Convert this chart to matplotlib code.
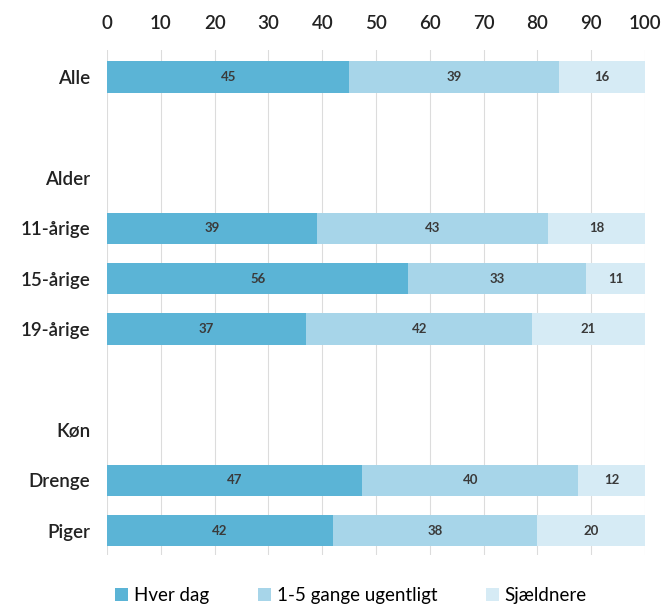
import matplotlib.pyplot as plt
import numpy as np

plt.rcParams['font.family'] = ['Lato', 'DejaVu Sans']

labels = ['Alle', '', 'Alder', '11-årige', '15-årige', '19-årige', '', 'Køn', 'Drenge', 'Piger']
hver_dag = [45, None, None, 39, 56, 37, None, None, 47.4, 42]
ugentligt = [39, None, None, 43, 33, 42, None, None, 40.2, 38]
sjaeldnere = [16, None, None, 18, 11, 21, None, None, 12.4, 20]
series_names = ['Hver dag', '1-5 gange ugentligt', 'Sjældnere']
colors = ['#5bb4d6', '#a7d5e9', '#d6ebf5']

fig = plt.figure(figsize=(6.65, 6.14), dpi=100)
ax = fig.add_axes([0.161, 0.096, 0.809, 0.823])

ypos = np.arange(len(labels))
idx = [i for i, v in enumerate(hver_dag) if v is not None]
left = np.zeros(len(idx))
for vals, col, name in zip([hver_dag, ugentligt, sjaeldnere], colors, series_names):
    v = np.array([vals[i] for i in idx], dtype=float)
    bars = ax.barh(ypos[idx], v, left=left, height=0.62, color=col, label=name, zorder=2)
    for b, val in zip(bars, v):
        ax.text(b.get_x() + b.get_width() / 2, b.get_y() + b.get_height() / 2, f'{val:.0f}',
                ha='center', va='center', fontsize=9.5, fontweight='bold', color='#3a3a3a', zorder=3)
    left += v

ax.set_xlim(0, 100)
ax.set_ylim(9.48, -0.54)
ax.set_xticks(np.arange(0, 101, 10))
ax.xaxis.tick_top()
ax.tick_params(axis='x', length=0, labelsize=13.5, pad=13, labelcolor='#222222')
ax.set_yticks(ypos)
ax.set_yticklabels(labels)
ax.tick_params(axis='y', length=0, labelsize=13.5, pad=12, labelcolor='#222222')
for t in ax.get_xticklabels() + ax.get_yticklabels():
    t.set_fontweight('semibold')
ax.grid(axis='x', color='#dcdcdc', linewidth=0.8, zorder=0)
for s in ax.spines.values():
    s.set_visible(False)

fig.legend(loc='lower left', bbox_to_anchor=(0.148, -0.012), ncol=3, frameon=False,
           fontsize=13.5, handlelength=0.7, handleheight=0.7, handletextpad=0.3,
           columnspacing=2.6)

fig.savefig('out.png', dpi=100)
